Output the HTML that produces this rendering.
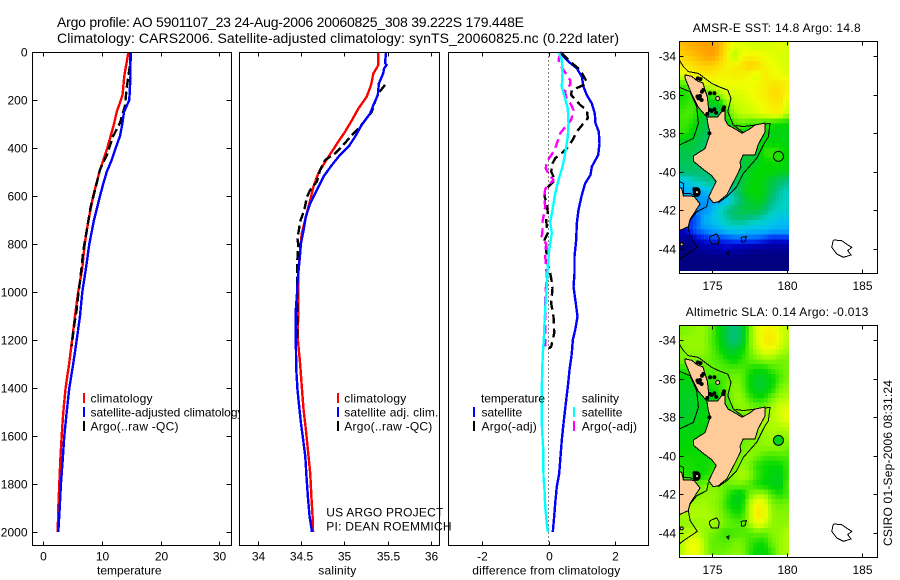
<!DOCTYPE html>
<html>
<head>
<meta charset="utf-8">
<title>Argo profile</title>
<style>
html,body{margin:0;padding:0;background:#fff;width:900px;height:580px;overflow:hidden}
svg{display:block}
text{font-family:"Liberation Sans",sans-serif;font-size:12px;fill:#000}
.t{font-size:14px}
</style>
</head>
<body>
<svg id="chart" xmlns="http://www.w3.org/2000/svg" width="900" height="580" viewBox="0 0 900 580">
<rect width="900" height="580" fill="#fff"/>
<text class="t" x="57" y="27" textLength="467">Argo profile: AO 5901107_23 24-Aug-2006 20060825_308 39.222S 179.448E</text>
<text class="t" x="57" y="43" textLength="562">Climatology: CARS2006. Satellite-adjusted climatology: synTS_20060825.nc (0.22d later)</text>
<g id="p1"></g>
<g id="leg1">
<rect x="83" y="393" width="2" height="10" fill="#f00"/>
<rect x="83" y="407" width="2" height="10" fill="#00f"/>
<rect x="83" y="421" width="2" height="10" fill="#000"/>
<text x="90.5" y="402.5" textLength="62">climatology</text>
<text x="90.5" y="416.5" textLength="153">satellite-adjusted climatology</text>
<text x="90.5" y="430.5" textLength="88">Argo(..raw -QC)</text>
</g>
<g id="p2"></g>
<g id="leg2">
<rect x="337" y="393" width="2" height="10" fill="#f00"/>
<rect x="337" y="407" width="2" height="10" fill="#00f"/>
<rect x="337" y="421" width="2" height="10" fill="#000"/>
<text x="344.3" y="402.5" textLength="62">climatology</text>
<text x="344.3" y="416.5" textLength="94">satellite adj. clim.</text>
<text x="344.3" y="430.5" textLength="88">Argo(..raw -QC)</text>
</g>
<g id="p3"></g>
<g id="leg3">
<text x="481" y="402.5" textLength="64">temperature</text>
<text x="481.5" y="416.5" textLength="40.7">satellite</text>
<text x="481.5" y="430.5" textLength="55.3">Argo(-adj)</text>
<text x="581.7" y="402.5" textLength="37.3">salinity</text>
<text x="581.7" y="416.5" textLength="40.7">satellite</text>
<text x="581.7" y="430.5" textLength="55.3">Argo(-adj)</text>
<rect x="473" y="407" width="2" height="10" fill="#00f"/>
<rect x="473" y="421" width="2" height="10" fill="#000"/>
<rect x="573" y="407" width="2" height="10" fill="#0ff"/>
<rect x="573" y="421" width="2" height="10" fill="#f0f"/>
</g>
<text x="326.3" y="516.5" textLength="117">US ARGO PROJECT</text>
<text x="326.3" y="530.5" textLength="125.3">PI: DEAN ROEMMICH</text>
<text x="97" y="574.5" textLength="64.5">temperature</text>
<text x="318.3" y="574.5" textLength="38">salinity</text>
<text x="472.3" y="574.5" textLength="148">difference from climatology</text>
<text x="692.7" y="32" textLength="168">AMSR-E SST: 14.8 Argo: 14.8</text>
<text x="685.7" y="316" textLength="182.6">Altimetric SLA: 0.14 Argo: -0.013</text>
<g id="m1"></g>
<g id="m2"></g>
<text transform="translate(892,546) rotate(-90)" textLength="166">CSIRO 01-Sep-2006 08:31:24</text>
</svg>
<script>
// ---- profile data ----
const depthTicks=[0,200,400,600,800,1000,1200,1400,1600,1800,2000];
const tempTicks=[0,10,20,30];
const salTicks=[34,34.5,35,35.5,36];
const diffTicks=[-2,0,2];

const tempClimDepth=[0,100,180,250,300,400,500,600,700,800,900,1000,1100,1200,1300,1400,1500,1600,1700,1800,1900,2000];
const tempClim=[14.5,13.8,13.5,12.5,12.05,10.9,9.55,8.5,7.7,7.05,6.65,5.95,5.4,4.9,4.4,3.8,3.4,3.13,2.9,2.73,2.56,2.45];
const tempSatDepth=[0,100,200,250,300,350,400,450,500,550,600,700,800,900,1000,1100,1200,1300,1400,1500,1600,1700,1800,1900,2000];
const tempSat=[14.83,14.85,14.65,13.75,13.46,13.07,12.33,11.65,10.8,10.2,9.66,8.64,7.84,7.27,6.65,6.25,5.69,5.1,4.43,3.99,3.58,3.3,3.0,2.8,2.56];
const tempArgoDepth=[4,25,150,225,295,350,430,490,575,645,730,830,900,955,1010,1075,1150,1225];
const tempArgo=[14.94,14.94,14.2,13.9,13.07,11.9,10.8,9.66,8.8,8.07,7.5,6.8,6.5,6.25,5.96,5.68,5.2,4.84];

const salClimDepth=[0,54,89,137,186,235,283,332,374,415,457,505,561,617,686,755,825,908,978,1200,1298,1395,1492,1575,1658,1755,1853,1936,2000];
const salClim=[35.394,35.394,35.337,35.31,35.26,35.165,35.09,35.01,34.93,34.857,34.78,34.70,34.645,34.607,34.557,34.51,34.49,34.47,34.47,34.465,34.49,34.51,34.53,34.557,34.58,34.607,34.62,34.634,34.64];
const salSatDepth=[0,47,54,68,89,131,179,221,256,304,353,394,429,471,519,575,631,686,742,797,867,936,1006,1075,1200,1325,1408,1478,1548,1617,1686,1770,1853,1936,2000];
const salSat=[35.483,35.47,35.49,35.46,35.45,35.40,35.387,35.337,35.30,35.20,35.125,35.05,34.95,34.857,34.76,34.684,34.607,34.557,34.53,34.50,34.484,34.465,34.454,34.44,34.44,34.446,34.46,34.48,34.50,34.526,34.55,34.564,34.58,34.60,34.627];
const salArgoDepth=[137,172,207,249,276,311,346,394,422,450,492,540,575,603,658,707,755,783,804,853,908,978,1100,1210];
const salArgo=[35.47,35.394,35.356,35.318,35.26,35.183,35.09,34.97,34.895,34.78,34.72,34.684,34.607,34.57,34.538,34.49,34.47,34.46,34.47,34.46,34.457,34.457,34.455,34.46];

const diffTempSatDepth=[0,19,40,68,103,144,179,214,256,297,332,381,429,478,512,547,596,658,714,783,853,922,978,1047,1103,1158,1200,1256,1325,1395,1464,1548,1617,1686,1756,1811,1881,1936,2000];
const diffTempSat=[.35,.45,.6,.85,1.0,1.05,1.15,1.3,1.39,1.41,1.51,1.53,1.49,1.3,1.26,1.1,1.0,.9,.85,.83,.78,.78,.75,.82,.87,.8,.73,.7,.63,.58,.52,.45,.4,.36,.32,.25,.2,.17,.13];
const diffSalSatDepth=[0,33,89,144,186,235,297,353,422,478,533,589,658,707,756,825,894,964,1075,1131,1200,1256,1325,1408,1548,1658,1770,1825,1895,1964,2000];
const diffSalSat=[.3,.4,.42,.4,.48,.58,.6,.58,.5,.42,.3,.2,.12,.05,.1,.02,-.02,-.05,-.1,-.12,-.14,-.17,-.19,-.2,-.2,-.16,-.15,-.12,-.1,-.05,-.02];
const diffTempArgoDepth=[6,40,75,124,137,144,158,179,221,242,276,297,332,360,394,415,443,464,499,533,575,603,631,672,700,728,749,783,811,874,922,957,985,1019,1047,1103,1172,1228,1235];
const diffTempArgo=[.4,.65,.95,1.15,1.05,.95,.7,.68,.95,1.15,1.18,1.05,.85,.75,.6,.45,.2,.12,.08,.2,-.1,-.12,-.05,-.02,-.07,-.05,0,-.12,-.07,-.05,.05,.1,.12,.1,.08,.15,.17,.08,.01];
const diffSalArgoDepth=[6,33,54,75,117,137,158,186,221,242,283,304,339,360,401,422,457,485,512,533,571,603,644,686,707,742,769,800,839,894,922,1033,1158,1228];
const diffSalArgo=[.35,.3,.35,.45,.65,.65,.5,.52,.68,.75,.68,.55,.35,.3,.2,.12,-.05,-.08,.02,.15,-.1,-.13,-.1,-.15,-.18,-.18,-.2,-.07,-.1,-.08,-.05,-.1,-.1,-.09];

// ---- map data: 0.5 degree readings, north to south, west to east ----
const mapLonTicks=[175,180,185];
const mapLatTicks=[-34,-36,-38,-40,-42,-44];
const argoLon=179.45;
const argoLat=-39.2;
const argoSST=14.8;
const argoSLA=-0.013;
const sstRows=[
[17.1,17.2,17.3,17.4,17.5,17.2,16.6,16.1,16.1,16.0,15.9,16.0,16.0,16.1,16.0],
[16.8,17.0,17.1,17.3,17.4,17.1,16.5,15.6,16.2,16.4,16.3,16.2,16.1,16.0,16.0],
[16.5,16.6,16.8,16.9,16.9,16.7,16.4,16.4,16.6,16.9,16.8,16.4,16.2,16.1,16.0],
[16.0,16.2,16.4,16.5,16.5,16.4,16.3,16.5,16.4,16.3,15.9,16.5,16.3,16.2,16.1],
[15.0,15.2,15.6,15.9,16.0,16.1,16.2,16.2,16.2,16.2,16.3,16.4,16.6,16.6,16.4],
[14.7,14.8,15.2,15.0,15.0,15.6,16.0,16.0,16.0,16.2,16.3,16.4,16.7,16.7,16.3],
[14.8,15.0,15.0,14.6,14.2,14.3,15.4,15.8,15.9,16.0,16.1,16.3,16.5,16.6,16.0],
[15.0,15.1,14.8,14.2,14.0,13.9,14.8,15.6,15.8,15.9,16.0,16.2,16.3,16.4,15.8],
[15.0,14.9,14.6,14.0,13.8,13.8,14.4,15.0,15.2,15.0,15.0,14.8,14.8,14.6,14.6],
[14.9,14.7,14.2,13.8,13.8,13.8,14.0,14.4,14.6,14.4,14.2,14.6,14.4,14.4,14.4],
[14.2,14.2,13.9,13.7,13.7,13.8,14.0,14.2,14.4,14.6,14.4,14.6,14.5,14.6,14.4],
[13.9,13.9,13.8,13.7,13.7,13.8,14.0,14.0,14.0,14.0,14.0,14.9,15.0,14.8,14.6],
[13.8,13.8,13.7,13.7,13.7,13.8,14.0,14.0,14.0,14.2,14.3,14.6,14.6,14.8,14.4],
[13.6,13.6,13.6,13.5,13.5,13.6,13.8,14.0,14.0,14.4,14.6,14.6,14.6,14.4,14.4],
[12.2,12.6,13.0,13.2,13.4,13.4,13.6,13.6,14.0,14.4,14.6,14.4,14.0,13.6,13.4],
[11.8,12.0,11.8,12.0,12.4,12.6,13.0,13.2,14.0,14.6,14.6,14.4,13.8,13.2,12.8],
[12.0,12.0,11.8,11.6,11.8,11.8,12.2,13.0,13.6,14.2,14.4,14.2,13.4,13.0,12.8],
[11.8,11.6,11.5,11.6,12.0,12.8,13.4,13.6,14.0,14.0,14.0,13.6,13.0,12.8,12.8],
[11.0,11.0,11.2,12.0,12.2,12.6,13.0,13.4,13.4,13.2,13.0,12.8,12.5,12.2,12.2],
[10.6,11.0,11.4,11.6,11.8,12.0,12.4,12.4,12.4,12.2,12.2,12.2,12.0,12.0,12.0],
[10.2,10.2,10.6,10.8,11.0,11.0,11.0,11.2,11.2,11.2,11.2,11.0,10.8,10.8,10.8],
[10.0,10.0,10.2,10.3,10.4,10.4,10.6,10.4,10.4,10.2,10.2,10.2,10.2,10.2,10.2],
[10.0,10.0,10.0,10.0,10.0,10.0,10.0,10.0,10.0,10.0,10.0,10.0,10.0,10.0,10.0],
[10.0,10.0,10.0,10.0,10.0,10.0,10.0,10.0,10.0,10.0,10.0,10.0,10.0,10.0,10.0]
];
const slaRows=[
[.10,.11,.12,.12,.08,.00,-.07,-.13,-.07,.09,.18,.21,.22,.18,.15],
[.12,.12,.12,.12,.07,.01,-.07,-.13,-.07,.10,.17,.23,.25,.19,.15],
[.10,.12,.12,.12,.08,.03,-.03,-.05,.00,.09,.15,.20,.20,.16,.13],
[.10,.10,.10,.10,.08,.06,.03,.00,.04,.08,.10,.12,.12,.10,.10],
[.04,.05,.08,.08,.08,.08,.07,.07,.07,.04,.02,.02,.06,.08,.10],
[.00,.00,.02,.06,.06,.06,.07,.10,.09,.01,-.03,-.03,.00,.06,.10],
[-.01,-.02,-.01,.00,.02,.04,.08,.11,.10,.02,-.03,-.03,.01,.10,.12],
[-.02,-.03,-.02,.00,.00,.03,.06,.12,.12,.06,.02,.03,.09,.13,.14],
[-.03,-.04,-.02,.00,.00,.00,.05,.10,.12,.11,.09,.10,.13,.17,.18],
[-.03,-.03,-.01,.00,.00,.00,.00,.05,.08,.10,.11,.13,.14,.17,.20],
[-.01,-.01,.00,.00,.00,.02,.04,.06,.08,.10,.12,.13,.14,.14,.15],
[.00,.00,.00,.00,.01,.02,.04,.06,.08,.10,.10,.12,.13,.12,.12],
[.01,.01,.01,.01,.02,.03,.05,.07,.09,.10,.11,.12,.12,.12,.10],
[.02,.02,.02,.02,.02,.04,.06,.08,.10,.12,.10,.07,.06,.07,.07],
[.03,.03,.02,.02,.03,.05,.07,.09,.12,.10,.04,.02,.01,.01,.05],
[.05,.03,.02,.02,.05,.08,.10,.12,.14,.12,.06,.02,.00,-.02,.05],
[.08,.06,.08,.10,.10,.10,.08,.10,.10,.07,.03,.01,-.01,-.03,.07],
[.10,.10,.10,.12,.12,.11,.06,.00,-.02,.09,.13,.13,.07,.03,.06],
[.13,.13,.13,.13,.12,.10,.04,-.01,.00,.14,.22,.20,.11,.09,.10],
[.13,.14,.14,.14,.13,.11,.07,.03,.03,.14,.25,.22,.12,.11,.11],
[.12,.12,.12,.13,.13,.12,.09,.08,.07,.13,.20,.18,.12,.11,.12],
[.13,.15,.15,.12,.10,.07,.05,.06,.07,.07,.09,.08,.11,.12,.14],
[.14,.20,.20,.14,.08,.08,.07,.10,.10,.06,.03,.02,.09,.12,.14],
[.14,.20,.20,.14,.09,.09,.10,.11,.11,.05,.00,.00,.05,.12,.14]
];
// geographic outlines as [lon,lat]
const northIsland=[[173.22,-34.98],[173.67,-35.05],[174.05,-35.3],[174.42,-35.4],[174.55,-35.76],[174.7,-36.1],[174.75,-36.43],[174.8,-36.8],[174.75,-37.16],[175.4,-37.16],[175.6,-36.95],[175.89,-36.7],[175.89,-37.3],[176.09,-37.58],[176.6,-37.8],[177.02,-38.0],[177.5,-37.8],[177.89,-37.58],[178.55,-37.47],[178.55,-37.94],[178.09,-38.6],[177.89,-39.13],[177.09,-39.13],[176.89,-39.5],[176.95,-39.75],[176.6,-40.3],[176.0,-41.2],[175.45,-41.55],[175.1,-41.6],[174.8,-41.3],[175.3,-40.5],[175.0,-40.2],[174.4,-39.85],[173.78,-39.45],[173.78,-39.18],[174.55,-38.8],[174.9,-38.0],[174.75,-37.58],[174.69,-37.17],[174.1,-36.65],[173.68,-36.0],[173.22,-35.14]];
const southIsland=[[172.7,-40.77],[173,-40.86],[173.11,-41.25],[173.56,-41.25],[173.84,-41.29],[174.22,-41.67],[173.89,-42.07],[173.56,-42.46],[173.44,-42.84],[172.7,-43.1]];
const contourNorth=[[172.84,-34.21],[173.11,-34.55],[173.44,-34.81],[174.11,-34.9],[174.56,-35.16],[175,-35.42],[175.56,-35.62],[176.07,-35.76],[176.29,-36.19],[176.07,-36.88],[176.44,-37.58],[177.18,-38.01]];
const contourEast=[[176.6,-37.6],[177.11,-37.66],[177.89,-37.58],[178.89,-37.49],[178.78,-38.18],[178.56,-38.44],[178,-39.3],[177.11,-40.08],[176.67,-40.77],[176,-41.29],[175.44,-41.6]];
const contourWest=[[172.84,-35.62],[173.56,-35.85],[174,-36.63],[174.11,-37.49],[173.78,-38.27],[172.84,-38.61]];
const contourSouth=[[174.78,-41.38],[174.67,-41.81],[174,-42.07],[173.56,-42.5],[173.44,-42.84],[173.56,-43.36],[174.04,-43.91],[173.11,-44.4],[172.84,-44.57]];
const contourStrait=[[172.84,-40.5],[173.11,-40.6],[173.11,-41.13],[173.56,-41.13],[174,-41.29]];
const chatham=[[183.11,-43.53],[183.67,-43.57],[184.07,-43.79],[184.33,-43.91],[184.07,-44.09],[184.29,-44.31],[183.78,-44.43],[183.33,-44.26],[183,-43.91],[183.11,-43.53]];
const shoalA=[[174.89,-43.36],[175.33,-43.22],[175.51,-43.45],[175.44,-43.74],[175,-43.74],[174.84,-43.53],[174.89,-43.36]];
const shoalB=[[176.96,-43.4],[177.31,-43.36],[177.22,-43.62],[177,-43.64],[176.96,-43.4]];
const shoalC=[[175.98,-44.22],[176.16,-44.14],[176.11,-44.31],[175.98,-44.22]];
const islets=[[174.11,-36.19],[174.33,-36.28],[174.22,-36.07],[174.2,-36.2],[174.05,-36.1],[174.44,-35.76],[174.35,-35.85],[174.07,-35.16],[174.25,-35.2],[174.89,-35.93],[175.18,-35.93],[174.89,-36.8],[175.0,-36.85],[175.18,-36.76],[175.82,-36.66],[175.75,-36.8],[174.71,-37.0],[175.3,-36.95],[174.85,-38.0],[173.85,-40.9]];

// ---- drawing ----
const svg=document.getElementById('chart');
const NS='http://www.w3.org/2000/svg';
function add(parent,tag,attrs,name,txt){
  const el=document.createElementNS(NS,tag);
  for(const k in attrs)el.setAttribute(k,attrs[k]);
  
  
  if(txt!==undefined)el.textContent=txt;
  parent.appendChild(el);
  return el;
}
const PY0=52.5,PY1=545.5;
const yDepth=p=>52+p*0.24;
function series(g,fx,depth,vals,color,name,dash){
  const pts=depth.map((d,i)=>fx(vals[i]).toFixed(1)+','+yDepth(d).toFixed(1)).join(' ');
  const a={points:pts,fill:'none',stroke:color,'stroke-width':2.4,'shape-rendering':'crispEdges','stroke-linejoin':'round'};
  if(dash)a['stroke-dasharray']=dash;
  add(g,'polyline',a,name);
}
function panel(id,left,right,min,max,ticks,yTicks){
  const g=document.getElementById(id);
  const fx=v=>left+(v-min)/(max-min)*(right-left);
  add(g,'rect',{x:left,y:PY0,width:right-left,height:PY1-PY0,fill:'#fff'},'plot-area');
  ticks.forEach(t=>{
    const x=Math.round(fx(t))+.5;
    add(g,'line',{x1:x,x2:x,y1:PY0,y2:PY0+4,stroke:'#000','shape-rendering':'crispEdges'},'x-tick-top');
    add(g,'line',{x1:x,x2:x,y1:PY1,y2:PY1-4,stroke:'#000','shape-rendering':'crispEdges'},'x-tick-bottom');
    add(g,'text',{x:x,y:560.5,'text-anchor':'middle'},'x-tick-label',String(t));
  });
  if(yTicks){
    depthTicks.forEach(d=>{
      const y=Math.round(yDepth(d))+.5;
      add(g,'line',{x1:left,x2:left+5,y1:y,y2:y,stroke:'#000','shape-rendering':'crispEdges'},'y-tick-left');
      add(g,'line',{x1:right,x2:right-5,y1:y,y2:y,stroke:'#000','shape-rendering':'crispEdges'},'y-tick-right');
      add(g,'text',{x:27.5,y:y+4,'text-anchor':'end'},'y-tick-label',String(d));
    });
  }
  return {g,fx,box(){add(g,'rect',{x:left,y:PY0,width:right-left,height:PY1-PY0,fill:'none',stroke:'#000','shape-rendering':'crispEdges'},'plot-frame');}};
}
const a=panel('p1',32.5,231.5,-1.84,32.06,tempTicks,true);
series(a.g,a.fx,tempClimDepth,tempClim,'#f00','climatology-temperature-line');
series(a.g,a.fx,tempArgoDepth,tempArgo,'#000','argo-temperature-line','9 4');
series(a.g,a.fx,tempSatDepth,tempSat,'#00f','satellite-temperature-line');
a.box();
const b=panel('p2',239.5,439.5,33.79,36.1,salTicks,false);
series(b.g,b.fx,salClimDepth,salClim,'#f00','climatology-salinity-line');
series(b.g,b.fx,salArgoDepth,salArgo,'#000','argo-salinity-line','9 4');
series(b.g,b.fx,salSatDepth,salSat,'#00f','satellite-salinity-line');
b.box();
const c=panel('p3',448.5,648.5,-3,3,diffTicks,false);
add(c.g,'line',{x1:c.fx(0),x2:c.fx(0),y1:PY0,y2:PY1,stroke:'#000','stroke-dasharray':'1 3','shape-rendering':'crispEdges'},'zero-line');
series(c.g,c.fx,diffTempSatDepth,diffTempSat,'#00f','diff-temperature-satellite-line');
series(c.g,c.fx,diffTempArgoDepth,diffTempArgo,'#000','diff-temperature-argo-line','9 5');
series(c.g,c.fx,diffSalArgoDepth,diffSalArgo,'#f0f','diff-salinity-argo-line','9 5');
series(c.g,c.fx,diffSalSatDepth,diffSalSat,'#0ff','diff-salinity-satellite-line');
c.box();

// colour scale
const cmapV=[10,10.6,11,11.6,12.2,12.8,13.4,14,14.6,15.2,15.8,16.2,16.8,17.4];
const cmapC=[[0,0,128],[0,0,192],[0,48,245],[0,144,255],[0,192,240],[0,208,200],[0,192,128],[0,200,64],[0,216,0],[96,240,0],[192,255,0],[240,255,0],[255,216,0],[255,160,0]];
function color(v){
  if(v<=cmapV[0])return 'rgb('+cmapC[0]+')';
  for(let i=1;i<cmapV.length;i++){
    if(v<=cmapV[i]){
      const f=(v-cmapV[i-1])/(cmapV[i]-cmapV[i-1]);
      return 'rgb('+cmapC[i].map((c,k)=>Math.round(cmapC[i-1][k]+(c-cmapC[i-1][k])*f))+')';
    }
  }
  return 'rgb('+cmapC[cmapC.length-1]+')';
}
const sstLevel=v=>v;
const slaLevel=v=>14.5+8.5*v;
// image-style display shading: the 0.5 degree readings are shown on the 0.25 degree image raster
function sample(rows,lon,lat){
  const u=Math.max(0,Math.min(rows[0].length-1,(lon-173)/.5));
  const w=Math.max(0,Math.min(rows.length-1,(-33.5-lat)/.5));
  const i=Math.min(rows[0].length-2,Math.floor(u)),j=Math.min(rows.length-2,Math.floor(w));
  const fu=u-i,fw=w-j;
  return (rows[j][i]*(1-fu)+rows[j][i+1]*fu)*(1-fw)+(rows[j+1][i]*(1-fu)+rows[j+1][i+1]*fu)*fw;
}

function drawMap(id,rows,level,top,bottom,imgBottom,y34,argoVal,clipId){
  const g=document.getElementById(id);
  const L=679.5,R=877.5;
  const X=lon=>711.7+(lon-175)*15;
  const Y=lat=>y34+(-34-lat)*19.3;
  const geo=pts=>pts.map(p=>X(p[0]).toFixed(1)+','+Y(p[1]).toFixed(1)).join(' ');
  add(g,'rect',{x:L,y:top,width:R-L,height:bottom-top,fill:'#fff'},'map-area');
  const defs=add(g,'defs',{},'map-defs');
  const cp=add(defs,'clipPath',{id:clipId},'map-image-clip');
  add(cp,'rect',{x:L,y:top,width:789-L,height:imgBottom-top},'map-image-clip-rect');
  const cp2=add(defs,'clipPath',{id:clipId+'b'},'map-box-clip');
  add(cp2,'rect',{x:L,y:top,width:R-L,height:bottom-top},'map-box-clip-rect');
  const heat=add(g,'g',{'clip-path':'url(#'+clipId+')'},'heatmap');
  for(let j=0;j<48;j++){
    for(let i=0;i<30;i++){
      const lonW=172.75+i*.25,latN=-33.25-j*.25;
      const v=sample(rows,lonW+.125,latN-.125);
      add(heat,'rect',{x:X(lonW).toFixed(1),y:Y(latN).toFixed(1),width:3.95,height:5.05,fill:color(level(v)),'shape-rendering':'crispEdges'},'heatmap-cell');
    }
  }
  const ov=add(g,'g',{'clip-path':'url(#'+clipId+'b)'},'coastlines');
  const line={fill:'none',stroke:'#000','stroke-width':1,'shape-rendering':'crispEdges'};
  [[contourNorth,'contour-north'],[contourEast,'contour-east'],[contourWest,'contour-west'],[contourSouth,'contour-south'],[contourStrait,'contour-strait'],[chatham,'chatham-islands'],[shoalA,'shoal-a'],[shoalB,'shoal-b'],[shoalC,'shoal-c']].forEach(o=>{
    add(ov,'polyline',Object.assign({points:geo(o[0])},line),o[1]);
  });
  add(ov,'polygon',{points:geo(northIsland),fill:'#ffcc99',stroke:'#000','shape-rendering':'crispEdges'},'north-island');
  add(ov,'polygon',{points:geo(southIsland),fill:'#ffcc99',stroke:'#000','shape-rendering':'crispEdges'},'south-island');
  add(ov,'circle',{cx:X(175.4),cy:Y(-36.2),r:2,fill:'#ffcc99',stroke:'#000'},'great-barrier-island');
  add(ov,'circle',{cx:X(173),cy:Y(-43.76),r:1.5,fill:'#ffcc99',stroke:'#000'},'banks-peninsula-spot');
  islets.forEach(p=>{
    add(ov,'circle',{cx:X(p[0]),cy:Y(p[1]),r:2,fill:'#000'},'islet');
  });
  add(ov,'ellipse',{cx:X(174),cy:Y(-41.05),rx:4,ry:5,fill:'#000'},'marlborough-sounds');
  add(ov,'circle',{cx:X(174.02),cy:Y(-41.05),r:1,fill:'#fff'},'marlborough-center');
  add(ov,'circle',{cx:X(argoLon),cy:Y(argoLat),r:5,fill:color(level(argoVal)),stroke:'#000'},'argo-position-marker');
  add(g,'rect',{x:L,y:top,width:R-L,height:bottom-top,fill:'none',stroke:'#000','shape-rendering':'crispEdges'},'map-frame');
  mapLonTicks.forEach(t=>{
    const x=Math.round(X(t))+.5;
    add(g,'line',{x1:x,x2:x,y1:top,y2:top+4,stroke:'#000','shape-rendering':'crispEdges'},'lon-tick-top');
    add(g,'line',{x1:x,x2:x,y1:bottom,y2:bottom-4,stroke:'#000','shape-rendering':'crispEdges'},'lon-tick-bottom');
    add(g,'text',{x:x,y:bottom+16.5,'text-anchor':'middle'},'lon-tick-label',String(t));
  });
  mapLatTicks.forEach(t=>{
    const y=Math.round(Y(t))+.5;
    add(g,'line',{x1:L,x2:L+4,y1:y,y2:y,stroke:'#000','shape-rendering':'crispEdges'},'lat-tick-left');
    add(g,'line',{x1:R,x2:R-4,y1:y,y2:y,stroke:'#000','shape-rendering':'crispEdges'},'lat-tick-right');
    add(g,'text',{x:676,y:y+4,'text-anchor':'end'},'lat-tick-label',String(t));
  });
}
drawMap('m1',sstRows,sstLevel,41.5,273.5,271,56,argoSST,'clipSst');
drawMap('m2',slaRows,slaLevel,325.5,557.5,555,340,argoSLA,'clipSla');
</script>
</body>
</html>
